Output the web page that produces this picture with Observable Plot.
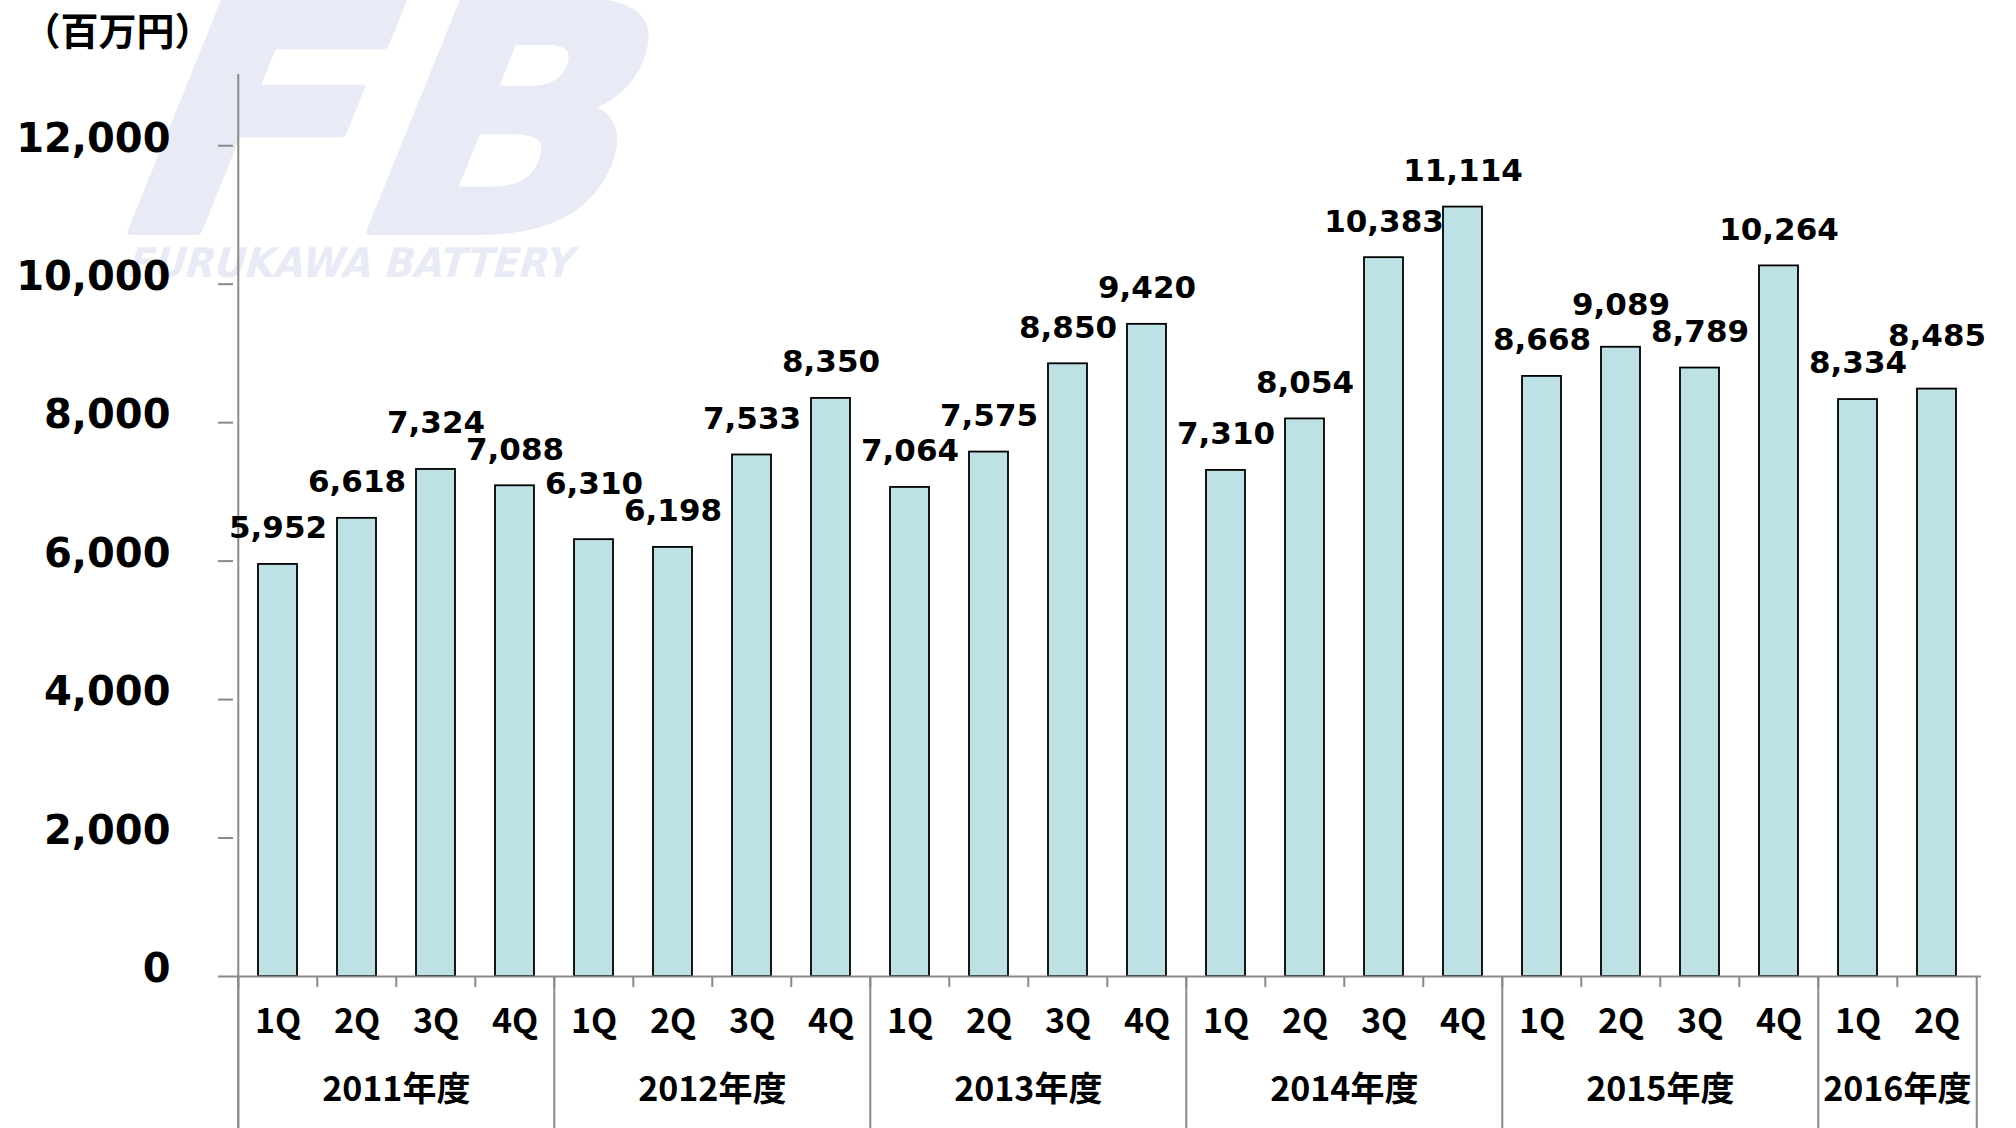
<!DOCTYPE html>
<html>
<head>
<meta charset="utf-8">
<script src="https://cdn.jsdelivr.net/npm/d3@7"></script>
<script src="https://cdn.jsdelivr.net/npm/@observablehq/plot@0.6"></script>
<style>
  html, body { margin: 0; padding: 0; background: #ffffff; }
  #wrap { position: relative; width: 2016px; height: 1128px; overflow: hidden; }
  #wm { position: absolute; left: 0; top: 0; }
  #chart { position: absolute; left: 0; top: 0; }
</style>
</head>
<body>
<div id="wrap">
  <svg id="wm" width="2016" height="1128">
    <g transform="translate(100,231) skewX(-22)" fill="#e8ebf5" stroke="#e8ebf5" stroke-width="8" stroke-linejoin="round">
      <text font-family="DejaVu Sans" font-weight="bold" font-size="316" textLength="505" lengthAdjust="spacingAndGlyphs">FB</text>
    </g>
    <g transform="translate(126,277) skewX(-15)" fill="#e8ebf5">
      <text font-family="DejaVu Sans" font-weight="bold" font-size="41" textLength="445" lengthAdjust="spacingAndGlyphs">FURUKAWA BATTERY</text>
    </g>
  </svg>
  <div id="chart"></div>
</div>
<script>
// ---- data ----
const fiscalYears = ["2011年度", "2012年度", "2013年度", "2014年度", "2015年度", "2016年度"];
const quartersPerYear = [4, 4, 4, 4, 4, 2];
const quarterNames = ["1Q", "2Q", "3Q", "4Q"];
const sales = [5952, 6618, 7324, 7088, 6310, 6198, 7533, 8350, 7064, 7575, 8850, 9420,
               7310, 8054, 10383, 11114, 8668, 9089, 8789, 10264, 8334, 8485];
const yTicks = [0, 2000, 4000, 6000, 8000, 10000, 12000];
const yMax = 13000;
const unitLabel = "（百万円）";

// ---- layout ----
const W = 2016, H = 1128, mL = 233, mR = 35, mT = 76, mB = 152;
const innerW = W - mL - mR, innerH = H - mT - mB;
const step = innerW / sales.length;
const gray = "#898989";
const fmt = d3.format(",");

const rows = [];
const groupRows = [];
const groupStartKeys = [];
fiscalYears.forEach((fy, g) => {
  const start = rows.length;
  for (let q = 0; q < quartersPerYear[g]; q++) {
    rows.push({ key: fy + "-" + quarterNames[q], fy, q: quarterNames[q] });
  }
  groupStartKeys.push(rows[start].key);
  groupRows.push({ key: rows[start + quartersPerYear[g] / 2].key, fy });
});
rows.forEach((r, i) => r.value = sales[i]);
const keys = rows.map(r => r.key);

// value label placement: above bar, lift taller label when neighbours collide
const pxPerUnit = innerH / yMax;
const labelGap = 36, minSep = 27;
const c = sales.map(v => v * pxPerUnit + labelGap);
for (let i = 1; i < c.length; i++) {
  if (Math.abs(c[i] - c[i - 1]) < minSep) {
    if (sales[i] > sales[i - 1]) c[i] = c[i - 1] + minSep;
    else c[i - 1] = c[i] + minSep;
  }
}
rows.forEach((r, i) => r.labelY = c[i] / pxPerUnit);

const cjk = "'Noto Sans CJK JP', 'DejaVu Sans', sans-serif";

const chart = Plot.plot({
  width: W, height: H,
  marginLeft: mL, marginRight: mR, marginTop: mT, marginBottom: mB,
  style: { fontFamily: "'DejaVu Sans', sans-serif", background: "transparent", overflow: "visible", color: "#000" },
  x: { type: "band", domain: keys, paddingInner: 0.51, paddingOuter: 0.255, axis: null },
  y: { domain: [0, yMax], label: null, axis: null },
  marks: [
    Plot.barY(rows, { x: "key", y: "value", fill: "#bde1e4", stroke: "#000", strokeWidth: 1.8 }),
    Plot.ruleY([0], { stroke: gray, strokeWidth: 2 }),
    // y ticks and labels
    Plot.ruleY(yTicks, { stroke: gray, strokeWidth: 2, insetLeft: -15, insetRight: innerW }),
    Plot.text(yTicks, {
      y: d => d, text: d => fmt(d), frameAnchor: "left", dx: -63, dy: -7,
      textAnchor: "end", lineAnchor: "middle", fontSize: 40, fontWeight: "bold", fill: "#000"
    }),
    // y axis line (continues down as first group border)
    Plot.ruleX([keys[0]], { dx: -step / 2, stroke: gray, strokeWidth: 2, insetTop: -2, insetBottom: -mB }),
    // small ticks at each quarter boundary
    Plot.ruleX(keys, { dx: -step / 2, stroke: gray, strokeWidth: 2, insetTop: innerH, insetBottom: -11 }),
    Plot.ruleX([keys[keys.length - 1]], { dx: step / 2, stroke: gray, strokeWidth: 2, insetTop: innerH, insetBottom: -mB }),
    // group separators
    Plot.ruleX(groupStartKeys, { dx: -step / 2, stroke: gray, strokeWidth: 2, insetTop: innerH, insetBottom: -mB }),
    // value labels
    Plot.text(rows, {
      x: "key", y: "labelY", text: d => fmt(d.value),
      fontSize: 31, fontWeight: "bold", fill: "#000", lineAnchor: "middle"
    }),
    // quarter labels
    Plot.text(rows, {
      x: "key", text: "q", frameAnchor: "bottom", dy: 46,
      fontSize: 34, fontWeight: "bold", fontFamily: cjk, fill: "#000", lineAnchor: "middle"
    }),
    // fiscal year labels
    Plot.text(groupRows, {
      x: "key", text: "fy", frameAnchor: "bottom", dx: -step / 2, dy: 114,
      fontSize: 34, fontWeight: "bold", fontFamily: cjk, fill: "#000", lineAnchor: "middle"
    }),
    // unit label
    Plot.text([unitLabel], {
      frameAnchor: "top-left", dx: -211, dy: -44, textAnchor: "start", lineAnchor: "middle",
      fontSize: 38, fontWeight: "bold", fontFamily: cjk, fill: "#000"
    })
  ]
});
document.getElementById("chart").appendChild(chart);
</script>
</body>
</html>
